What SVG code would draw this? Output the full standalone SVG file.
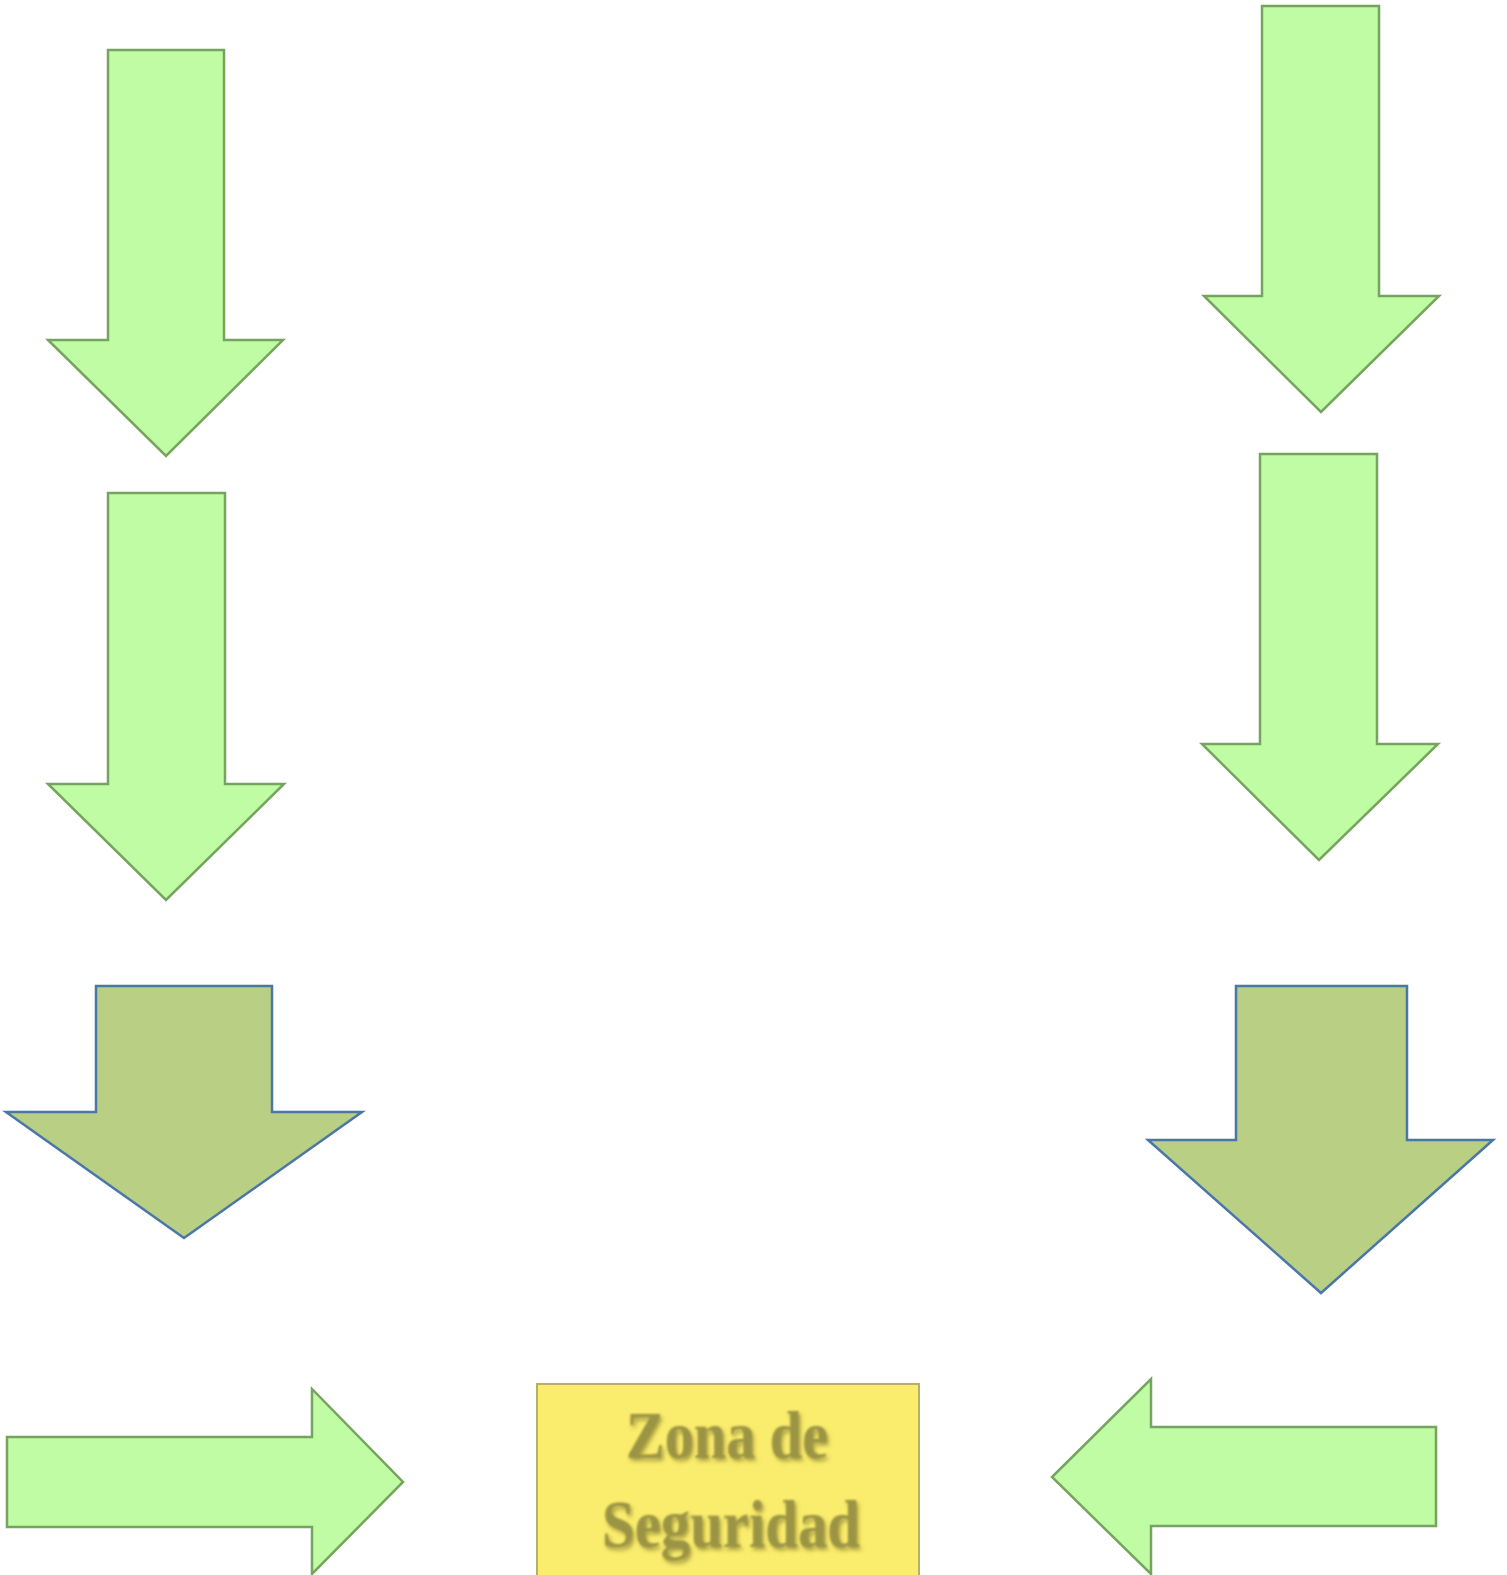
<svg xmlns="http://www.w3.org/2000/svg" width="1507" height="1575" viewBox="0 0 1507 1575">
  <style>
    .light { fill: #bffca3; stroke: #76a45f; stroke-width: 2.5; stroke-linejoin: miter; }
    .dark { fill: #b8cf84; stroke: #4a76a8; stroke-width: 2.5; stroke-linejoin: miter; }
    .box { fill: #faec6c; stroke: #b8ae64; stroke-width: 2; }
    .label { font-family: "Liberation Serif", "Times New Roman", serif; font-weight: bold; font-size: 68px; fill: #9b9444; text-anchor: middle; }
  </style>
  <defs>
    <filter id="soft" x="-10%" y="-20%" width="120%" height="140%">
      <feGaussianBlur in="SourceAlpha" stdDeviation="2"/>
      <feOffset dx="2" dy="3" result="sh"/>
      <feFlood flood-color="#6b6528" flood-opacity="0.55"/>
      <feComposite in2="sh" operator="in" result="shadow"/>
      <feGaussianBlur in="SourceGraphic" stdDeviation="0.8" result="txt"/>
      <feMerge>
        <feMergeNode in="shadow"/>
        <feMergeNode in="txt"/>
      </feMerge>
    </filter>
  </defs>
  <rect width="1507" height="1575" fill="#ffffff"/>
  <g id="connectors">
    <g id="arrow-left-1"><polygon class="light" points="108,50 224,50 224,340 283,340 166,456 48,340 108,340"/></g>
    <g id="arrow-left-2"><polygon class="light" points="108,493 225,493 225,784 284,784 166,900 48,784 108,784"/></g>
    <g id="arrow-right-1"><polygon class="light" points="1262,6 1379,6 1379,296 1439,296 1321,412 1204,296 1262,296"/></g>
    <g id="arrow-right-2"><polygon class="light" points="1260,454 1377,454 1377,744 1438,744 1319,860 1202,744 1260,744"/></g>
    <g id="arrow-left-3"><polygon class="dark" points="96,986 272,986 272,1112 362,1112 184,1238 6,1112 96,1112"/></g>
    <g id="arrow-right-3"><polygon class="dark" points="1236,986 1407,986 1407,1140 1493,1140 1321,1293 1148,1140 1236,1140"/></g>
    <g id="arrow-bottom-left"><polygon class="light" points="7,1437 312,1437 312,1389 403,1482 312,1574 312,1527 7,1527"/></g>
    <g id="arrow-bottom-right"><polygon class="light" points="1436,1427 1151,1427 1151,1379 1052,1477 1151,1574 1151,1526 1436,1526"/></g>
  </g>
  <g id="zona-seguridad">
    <rect class="box" x="537" y="1384" width="382" height="196"/>
    <g filter="url(#soft)">
      <text class="label" x="727" y="1458" textLength="202" lengthAdjust="spacingAndGlyphs">Zona de</text>
      <text class="label" x="731" y="1547" textLength="258" lengthAdjust="spacingAndGlyphs">Seguridad</text>
    </g>
  </g>
</svg>
